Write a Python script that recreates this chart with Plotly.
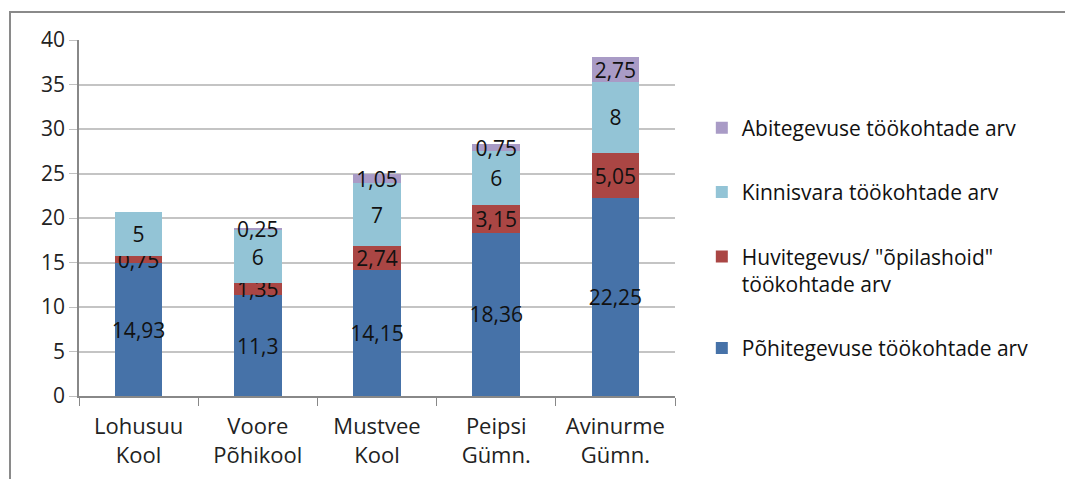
import plotly.graph_objects as go

categories = ["Lohusuu<br>Kool", "Voore<br>Põhikool", "Mustvee<br>Kool", "Peipsi<br>Gümn.", "Avinurme<br>Gümn."]
pohitegevus = [14.93, 11.3, 14.15, 18.36, 22.25]
huvitegevus = [0.75, 1.35, 2.74, 3.15, 5.05]
kinnisvara = [5, 6, 7, 6, 8]
abitegevus = [None, 0.25, 1.05, 0.75, 2.75]

series = [
    ("Põhitegevuse töökohtade arv", pohitegevus, "#4672A8"),
    ("Huvitegevus/ \"õpilashoid\"<br>töökohtade arv", huvitegevus, "#AA4644"),
    ("Kinnisvara töökohtade arv", kinnisvara, "#93C4D6"),
    ("Abitegevuse töökohtade arv", abitegevus, "#A99BC6"),
]

FONT = "Open Sans"

def fmt(v):
    if v is None:
        return ""
    return f"{v:g}".replace(".", ",")

# plot area in page coordinates (body margin 8px shifts the picture)
L, R, T, B = 71, 667, 32, 388
W, H = R - L, B - T

fig = go.Figure()
n = len(series)
for i, (name, vals, color) in enumerate(series):
    fig.add_trace(go.Bar(
        x=categories, y=vals, name=name,
        marker=dict(color=color, line=dict(width=0)),
        text=[fmt(v) for v in vals],
        textposition="inside", insidetextanchor="middle", textangle=0,
        constraintext="none", cliponaxis=False,
        insidetextfont=dict(family=FONT, size=21, color="#111111"),
        legendgroup=f"g{i}", legendrank=n - i,
    ))

fig.update_layout(
    barmode="stack", bargap=0.6,
    width=1073, height=479,
    margin=dict(l=L, r=1073 - R, t=T, b=479 - B),
    paper_bgcolor="white", plot_bgcolor="white",
    font=dict(family=FONT, size=21, color="#222222"),
    uniformtext=dict(minsize=21, mode="show"),
    showlegend=True,
    legend=dict(
        traceorder="grouped", tracegroupgap=34, valign="top",
        x=1.045, xanchor="left", y=0.81, yanchor="top",
        font=dict(family=FONT, size=21, color="#111111"),
        bgcolor="rgba(0,0,0,0)", itemwidth=30,
    ),
    xaxis=dict(
        showline=True, linecolor="#888888", linewidth=1.5,
        ticks="outside", tickson="boundaries", ticklen=8, tickcolor="#888888",
        tickfont=dict(family=FONT, size=22, color="#222222"),
        ticklabelstandoff=10,
        showgrid=False,
    ),
    yaxis=dict(
        range=[0, 40], dtick=5, tick0=0,
        showline=True, linecolor="#888888", linewidth=1.5,
        ticks="outside", ticklen=8, tickcolor="#C0C0C0",
        showgrid=True, gridcolor="#C4C4C4", gridwidth=1.5,
        tickfont=dict(family=FONT, size=21, color="#222222"),
        zeroline=False,
    ),
    shapes=[dict(
        type="rect", xref="paper", yref="paper",
        x0=(2 - L) / W, x1=(1085 - L) / W,
        y0=(B - 495) / H, y1=(B - 4) / H,
        line=dict(color="#8A8A8A", width=2), fillcolor="rgba(0,0,0,0)",
        layer="below",
    )],
)

fig.write_html("out.html")
